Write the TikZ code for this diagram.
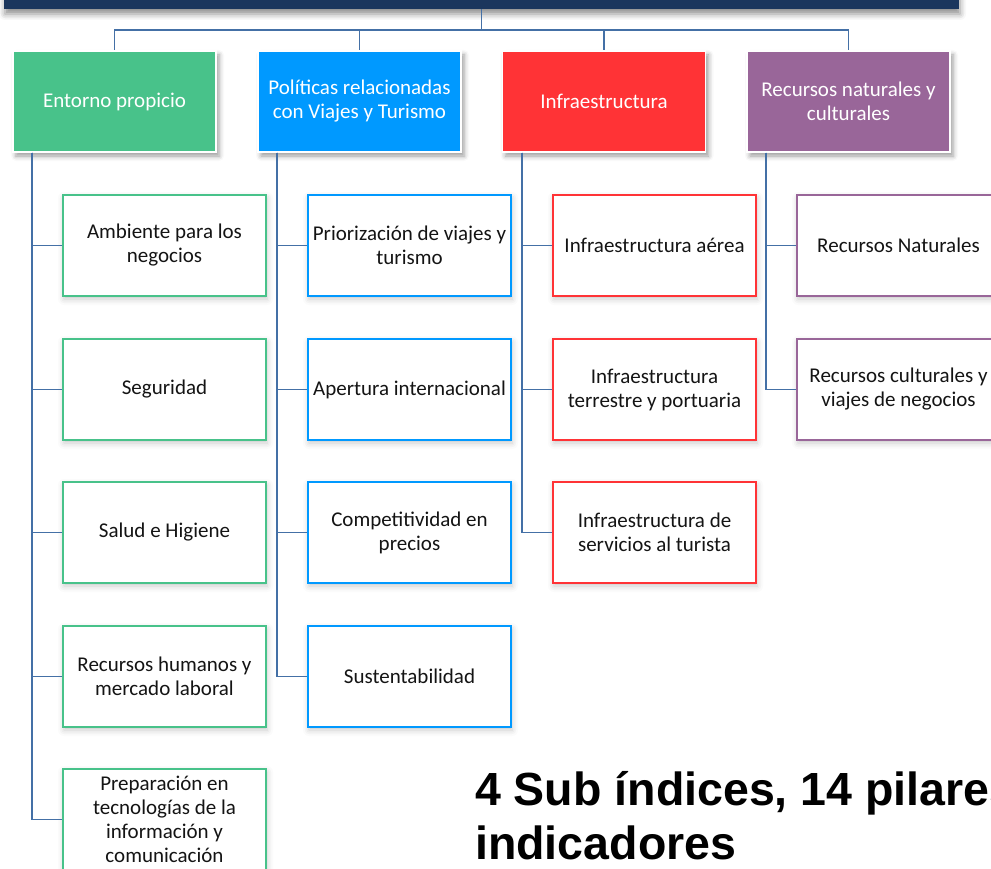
\documentclass[tikz,border=0pt]{standalone}
\usepackage{fontspec}
\setmainfont{Carlito}
\newfontfamily\headfont{Liberation Sans}
\usetikzlibrary{shadows.blur}

\definecolor{navy}{RGB}{27,54,93}
\definecolor{linkblue}{RGB}{68,112,166}
\definecolor{pgreen}{RGB}{72,194,138}
\definecolor{pblue}{RGB}{0,153,255}
\definecolor{pred}{RGB}{255,51,54}
\definecolor{ppurple}{RGB}{153,102,153}
\definecolor{txt}{RGB}{20,20,20}

\tikzset{
  boxfont/.style={font=\fontsize{21}{24}\selectfont},
  rootbox/.style={fill=navy, minimum width=955pt, minimum height=100pt, inner sep=0pt,
    blur shadow={shadow xshift=1pt, shadow yshift=-5pt, shadow blur radius=6pt, shadow opacity=45}},
  pillar/.style={boxfont, minimum width=203pt, minimum height=101pt, inner sep=0pt,
    draw=white, line width=1.5pt, text=white, align=center,
    blur shadow={shadow xshift=3pt, shadow yshift=-4pt, shadow blur radius=5pt, shadow opacity=40}},
  subbox/.style={boxfont, minimum width=203pt, minimum height=101pt, inner sep=0pt,
    fill=white, line width=1.5pt, align=center, text=txt,
    blur shadow={shadow xshift=1pt, shadow yshift=-3pt, shadow blur radius=6pt, shadow opacity=22}},
  link/.style={draw=linkblue, line width=1.8pt},
}

\begin{document}
\begin{tikzpicture}[x=1pt, y=-1pt]
  \useasboundingbox (0,0) rectangle (991,869);
  \clip (0,0) rectangle (991,869);

  % root bar, only its lower edge shows
  \node[rootbox] (root) at (481.5,-41) {};

  % sub-index boxes
  \node[pillar, fill=pgreen]   (p1) at (114.5,101.5) {Entorno propicio};
  \node[pillar, fill=pblue]    (p2) at (359.5,101.5) {Políticas relacionadas\\con Viajes y Turismo};
  \node[pillar, fill=pred]     (p3) at (604,101.5)   {Infraestructura};
  \node[pillar, fill=ppurple]  (p4) at (848.5,101.5) {Recursos naturales y\\culturales};

  % connectors from the root
  \draw[link] (root.south) -- ++(0,21) coordinate (hub);
  \foreach \p in {p1,p2,p3,p4}
    \draw[link] (hub) -| (\p.north);

  % pillars
  \node[subbox, draw=pgreen] (g1) at (164.5,245.5) {Ambiente para los\\negocios};
  \node[subbox, draw=pgreen] (g2) at (164.5,389.5) {Seguridad};
  \node[subbox, draw=pgreen] (g3) at (164.5,532.5) {Salud e Higiene};
  \node[subbox, draw=pgreen] (g4) at (164.5,676.5) {Recursos humanos y\\mercado laboral};
  \node[subbox, draw=pgreen] (g5) at (164.5,819.5) {Preparación en\\tecnologías de la\\información y\\comunicación};

  \node[subbox, draw=pblue] (b1) at (409.5,245.5) {Priorización de viajes y\\turismo};
  \node[subbox, draw=pblue] (b2) at (409.5,389.5) {Apertura internacional};
  \node[subbox, draw=pblue] (b3) at (409.5,532.5) {Competitividad en\\precios};
  \node[subbox, draw=pblue] (b4) at (409.5,676.5) {Sustentabilidad};

  \node[subbox, draw=pred] (r1) at (654.5,245.5) {Infraestructura aérea};
  \node[subbox, draw=pred] (r2) at (654.5,389.5) {Infraestructura\\terrestre y portuaria};
  \node[subbox, draw=pred] (r3) at (654.5,532.5) {Infraestructura de\\servicios al turista};

  \node[subbox, draw=ppurple] (v1) at (898.5,245.5) {Recursos Naturales};
  \node[subbox, draw=ppurple] (v2) at (898.5,389.5) {Recursos culturales y\\viajes de negocios};

  % spines from each sub-index to its pillars
  \foreach \c in {g1,g2,g3,g4,g5}
    \draw[link] ([xshift=20pt]p1.south west) |- (\c.west);
  \foreach \c in {b1,b2,b3,b4}
    \draw[link] ([xshift=20pt]p2.south west) |- (\c.west);
  \foreach \c in {r1,r2,r3}
    \draw[link] ([xshift=20pt]p3.south west) |- (\c.west);
  \foreach \c in {v1,v2}
    \draw[link] ([xshift=20pt]p4.south west) |- (\c.west);

  % summary caption (base anchor sits on its last line)
  \node[anchor=base west, align=left, inner sep=0pt,
        font=\headfont\bfseries\fontsize{46.5}{54}\selectfont] (caption)
        at (475,859) {4 Sub índices, 14 pilares\\indicadores};
\end{tikzpicture}
\end{document}
